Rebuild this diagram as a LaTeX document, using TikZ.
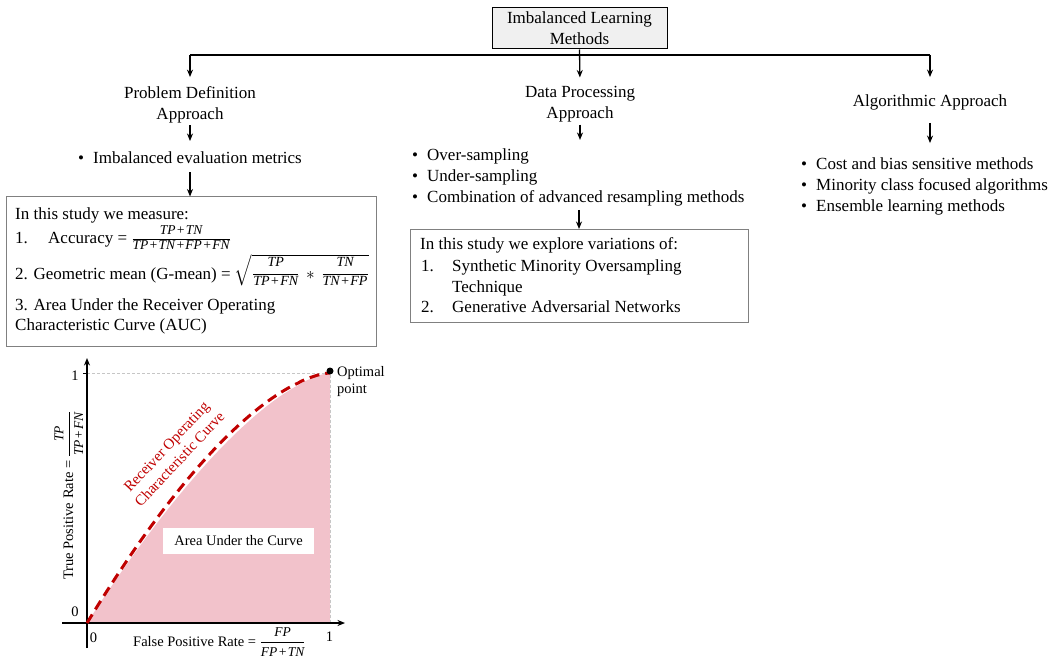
\documentclass[tikz,border=0pt]{standalone}
\usepackage{amsmath}
\usepackage{fontspec}
\setmainfont{Liberation Serif}
\usetikzlibrary{arrows.meta}
\definecolor{roc}{HTML}{C00000}
\definecolor{auc}{HTML}{F2C2CB}
\definecolor{boxgray}{HTML}{808080}
% fraction with italic text terms: size, numerator lift, denominator drop, numerator, denominator
\newcommand\fr[5]{\genfrac{}{}{1.1pt}{1}%
  {\hbox{\fontsize{#1}{#1}\selectfont\itshape\vrule width 0pt depth #2\relax #4}}%
  {\hbox{\fontsize{#1}{#1}\selectfont\itshape\vrule width 0pt height #3\relax #5}}}
\newcommand\pl{\kern0.6pt+\kern0.6pt}
\begin{document}
\begin{tikzpicture}[x=1pt,y=-1pt,
  txt/.style={font=\fontsize{17}{21}\selectfont, inner sep=0pt, align=center},
  lst/.style={font=\fontsize{17}{21}\selectfont, inner sep=0pt, align=left},
  line/.style={font=\fontsize{17}{21}\selectfont, inner sep=0pt, anchor=base west},
  lbl/.style={font=\fontsize{14.5}{17}\selectfont, inner sep=0pt},
  link/.style={line width=1.3pt},
  arr/.style={line width=1.3pt, -{Stealth[length=7.5pt,width=6pt]}},
  panel/.style={draw=boxgray, line width=1pt, inner sep=0pt},
  guide/.style={gray!45, line width=0.6pt, dash pattern=on 3pt off 2pt},
]
\useasboundingbox (0,0) rectangle (1052,663);

% ---------- hierarchy ----------
\node[txt, draw=black, fill=gray!12, line width=1pt, minimum width=175pt, minimum height=41pt]
  (root) at (579.5,28.5) {Imbalanced Learning\\Methods};
\coordinate (jl) at (190,55);
\coordinate (jr) at (930,55);

\node[txt] (pd) at (190,104.6) {Problem Definition\\Approach};
\node[txt] (dp) at (580,104.6) {Data Processing\\Approach};
\node[txt] (aa) at (930,102) {Algorithmic Approach};

\draw[link] (jl) -- (jr);
\draw[arr, shorten >=9pt] (root.south) -- (dp.north);
\draw[arr, shorten >=9pt] (jl) -- (pd.north);
\draw[arr, shorten >=17pt] (jr) -- (aa.north);

% problem definition branch
\node[txt] (pdb) at (190,157.2) {\makebox[15pt][l]{•}Imbalanced evaluation metrics};
\draw[arr, shorten <=2pt, shorten >=10pt] (pd.south) -- (pdb.north);

\node[panel, minimum width=370pt, minimum height=149pt] (box1) at (191,271.5) {};
\draw[arr, shorten <=9pt] (pdb.south) -- (pdb.south |- box1.north);
\node[line] (m0) at (15,220) {In this study we measure:};
\node[line] (m1) at (15,243.5) {\makebox[33pt][l]{1.}Accuracy = $\fr{13.5}{3pt}{9pt}{TP\pl TN}{TP\pl TN\pl FP\pl FN}$};
\node[line] (m2) at (15,279) {2. Geometric mean (G-mean) = $\sqrt{\fr{14}{7pt}{9pt}{TP}{TP\pl FN}\,\ast\,\fr{14}{7pt}{9pt}{TN}{TN\pl FP}}$};
\node[line] (m3) at (15,310.5) {3. Area Under the Receiver Operating};
\node[line] (m4) at (15,330.5) {Characteristic Curve (AUC)};

% data processing branch
\node[lst, anchor=west] (dpl) at (412,177.9)
  {\makebox[15pt][l]{•}Over-sampling\\\makebox[15pt][l]{•}Under-sampling\\\makebox[15pt][l]{•}Combination of advanced resampling methods};
\draw[arr, shorten <=2pt, shorten >=9pt] (dp.south) -- (dp.south |- dpl.north);

\node[panel, minimum width=338pt, minimum height=92.5pt] (box2) at (579,275.75) {};
\draw[arr, shorten <=3pt] (box2.north |- dpl.south) -- (box2.north);
\node[line] (e0) at (420,250) {In this study we explore variations of:};
\node[line] (e1) at (421,271) {\makebox[31pt][l]{1.}Synthetic Minority Oversampling};
\node[line] (e2) at (452,292) {Technique};
\node[line] (e3) at (421,312) {\makebox[31pt][l]{2.}Generative Adversarial Networks};

% algorithmic branch
\node[lst, anchor=west] (aal) at (801,186)
  {\makebox[15pt][l]{•}Cost and bias sensitive methods\\\makebox[15pt][l]{•}Minority class focused algorithms\\\makebox[15pt][l]{•}Ensemble learning methods};
\draw[arr, shorten <=13pt, shorten >=14pt] (aa.south) -- (aa.south |- aal.north);

% ---------- ROC plot ----------
\coordinate (O) at (87,623);
\coordinate (xs) at (62,623);
\coordinate (xe) at (345,623);
\coordinate (ys) at (87,648);
\coordinate (ye) at (87,358);
\coordinate (top1) at (87,373);
\coordinate (corner) at (330,623);

\fill[auc] (O) -- plot[domain=0:0.995, samples=80] ({87+243*\x},{623-250*(1-(1-\x)^1.5)}) -- (330,373) -- (corner) -- cycle;
\draw[guide] (top1) -- (330,373) -- (corner);
\draw[line width=1pt] (83,373) -- (top1);
\draw[arr, line width=1.2pt] (xs) -- (xe);
\draw[arr, line width=1.2pt] (ys) -- (ye);
\draw[roc, line width=3pt, dash pattern=on 10pt off 6pt]
  plot[domain=0:0.995, samples=80] ({87+243*\x},{623-250*(1-(1-\x)^1.6)}) -- (329,371);
\node[circle, fill=black, inner sep=0pt, minimum size=7pt] (opt) at (330,371) {};
\node[lbl, align=left, anchor=west, font=\fontsize{14.5}{16.5}\selectfont] (optl) at (337,381.6) {Optimal\\point};

\node[lbl] (y1) at (75,376) {1};
\node[lbl] (y0) at (75,612) {0};
\node[lbl] (x0) at (93.5,637.5) {0};
\node[lbl] (x1) at (329.5,637) {1};
\node[lbl, anchor=base west] (xl) at (133,646.5) {False Positive Rate = $\fr{13.5}{4.5pt}{12pt}{FP}{FP\pl TN}$};
\node[lbl, anchor=base west, rotate=90] (yl) at (73,580) {True Positive Rate = $\fr{13.5}{4.5pt}{12pt}{TP}{TP\pl FN}$};

\node[lbl, fill=white, minimum width=151pt, minimum height=26pt] (aucl) at (238.5,541) {Area Under the Curve};
\node[lbl, roc, align=center, rotate=47, font=\fontsize{15}{18}\selectfont] (rocl) at (173,453)
  {Receiver Operating\\Characteristic Curve};
\end{tikzpicture}
\end{document}
